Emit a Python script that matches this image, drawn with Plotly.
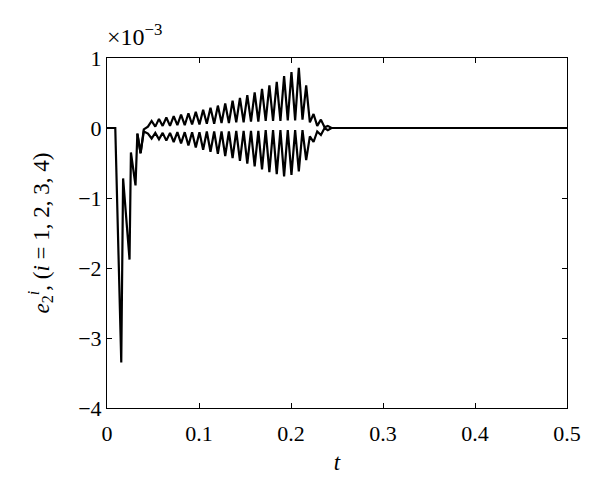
import plotly.graph_objects as go

# values in units of 1e-3
# branch A: initial transient and upper band
t_upper = [0.0, 0.009, 0.0155, 0.0175, 0.0245, 0.026, 0.031, 0.033, 0.0365, 0.040, 0.0445,
           0.0485, 0.0525, 0.0565, 0.0605, 0.0645, 0.0685, 0.0725, 0.0765, 0.0805, 0.0845,
           0.0885, 0.0925, 0.0965, 0.1005, 0.1045, 0.1085, 0.1125, 0.1165, 0.1205, 0.1245,
           0.1285, 0.1325, 0.1365, 0.1405, 0.1445, 0.1485, 0.1525, 0.1565, 0.1605, 0.1645,
           0.1685, 0.1725, 0.1765, 0.1805, 0.1845, 0.1885, 0.1925, 0.1965, 0.2005, 0.2045,
           0.2085, 0.2125, 0.2165, 0.2205, 0.2245, 0.2285, 0.2325, 0.2365, 0.240, 0.244, 0.5]
e_upper = [0.0, 0.0, -3.35, -0.72, -1.88, -0.35, -0.82, -0.08, -0.36, -0.02, 0.02,
           0.10, 0.02, 0.13, 0.03, 0.15, 0.03, 0.17, 0.04, 0.19, 0.04,
           0.21, 0.05, 0.23, 0.05, 0.26, 0.06, 0.29, 0.06, 0.32, 0.07,
           0.35, 0.07, 0.39, 0.08, 0.43, 0.08, 0.47, 0.09, 0.51, 0.09,
           0.56, 0.10, 0.61, 0.10, 0.66, 0.10, 0.74, 0.11, 0.80, 0.11,
           0.86, 0.12, 0.61, 0.08, 0.20, 0.03, 0.12, 0.01, 0.03, 0.0, 0.0]

# branch B: lower band
t_lower = [0.033, 0.0365, 0.040, 0.0445,
           0.0485, 0.0525, 0.0565, 0.0605, 0.0645, 0.0685, 0.0725, 0.0765, 0.0805, 0.0845,
           0.0885, 0.0925, 0.0965, 0.1005, 0.1045, 0.1085, 0.1125, 0.1165, 0.1205, 0.1245,
           0.1285, 0.1325, 0.1365, 0.1405, 0.1445, 0.1485, 0.1525, 0.1565, 0.1605, 0.1645,
           0.1685, 0.1725, 0.1765, 0.1805, 0.1845, 0.1885, 0.1925, 0.1965, 0.2005, 0.2045,
           0.2085, 0.2125, 0.2165, 0.2205, 0.2245, 0.2285, 0.2325, 0.2365, 0.240, 0.244]
e_lower = [-0.08, -0.36, -0.05, -0.08,
           -0.15, -0.07, -0.16, -0.07, -0.18, -0.07, -0.20, -0.06, -0.22, -0.06,
           -0.25, -0.06, -0.28, -0.06, -0.31, -0.05, -0.34, -0.05, -0.37, -0.05,
           -0.40, -0.05, -0.43, -0.04, -0.47, -0.04, -0.51, -0.04, -0.55, -0.04,
           -0.59, -0.03, -0.63, -0.03, -0.66, -0.03, -0.69, -0.03, -0.67, -0.03,
           -0.62, -0.03, -0.46, -0.12, -0.20, -0.05, -0.10, 0.0, -0.03, 0.0]

x_ticks = [0, 0.1, 0.2, 0.3, 0.4, 0.5]
y_ticks = [-4, -3, -2, -1, 0, 1]

fig = go.Figure()
fig.add_trace(go.Scatter(x=t_upper, y=e_upper, mode="lines",
                         line=dict(color="black", width=2.2), showlegend=False))
fig.add_trace(go.Scatter(x=t_lower, y=e_lower, mode="lines",
                         line=dict(color="black", width=2.2), showlegend=False))

font_family = "Liberation Serif, DejaVu Serif, serif"
axis_common = dict(showgrid=False, zeroline=False, showline=True, linecolor="black",
                   linewidth=1, mirror="ticks", ticks="inside", ticklen=5,
                   tickcolor="black", tickfont=dict(family=font_family, size=22, color="black"))

fig.update_layout(
    width=592, height=489,
    margin=dict(l=99, r=33, t=50, b=89),
    plot_bgcolor="white", paper_bgcolor="white",
    font=dict(family=font_family, color="black", size=22),
    xaxis=dict(range=[0, 0.5], tickvals=x_ticks, ticktext=[str(v) for v in x_ticks],
               ticklabelstandoff=6,
               title=dict(text="<i>t</i>", font=dict(family=font_family, size=23), standoff=8),
               **axis_common),
    yaxis=dict(range=[-4, 1], tickvals=y_ticks,
               title=dict(text="<i>e</i><sub>2</sub><sup><i>i</i></sup>, (<i>i</i> = 1, 2, 3, 4)",
                          font=dict(family=font_family, size=23), standoff=22),
               **axis_common),
    annotations=[dict(text="×10<sup>−3</sup>", xref="paper", yref="paper", x=0, y=1,
                      xanchor="left", yanchor="bottom", yshift=6, xshift=-2, showarrow=False,
                      font=dict(family=font_family, size=24, color="black"))],
)

fig.write_html("out.html")
